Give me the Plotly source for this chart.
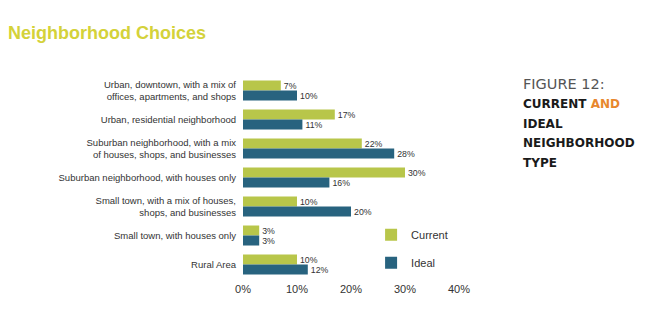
import plotly.graph_objects as go

categories = [
    "Urban, downtown, with a mix of<br>offices, apartments, and shops",
    "Urban, residential neighborhood",
    "Suburban neighborhood, with a mix<br>of houses, shops, and businesses",
    "Suburban neighborhood, with houses only",
    "Small town, with a mix of houses,<br>shops, and businesses",
    "Small town, with houses only",
    "Rural Area",
]
current = [7, 17, 22, 30, 10, 3, 10]
ideal = [10, 11, 28, 16, 20, 3, 12]
x_ticks = [0, 10, 20, 30, 40]
x_tick_labels = ["0%", "10%", "20%", "30%", "40%"]

COND = "Liberation Sans Narrow, Liberation Sans, Arial, sans-serif"
C_CUR = "#b8c64a"
C_IDEAL = "#28637f"

fig = go.Figure()
fig.add_trace(go.Bar(
    y=categories, x=current, orientation="h", name="Current",
    marker=dict(color=C_CUR, line=dict(width=0)),
    text=[f"{v}%" for v in current], textposition="outside", cliponaxis=False,
    textfont=dict(family=COND, size=10.5, color="#333333"),
    legendgroup="a",
))
fig.add_trace(go.Bar(
    y=categories, x=ideal, orientation="h", name="Ideal",
    marker=dict(color=C_IDEAL, line=dict(width=0)),
    text=[f"{v}%" for v in ideal], textposition="outside", cliponaxis=False,
    textfont=dict(family=COND, size=10.5, color="#333333"),
    legendgroup="b",
))

L, R, T, B = 243, 194, 76, 46
fig.update_layout(
    width=653, height=325,
    margin=dict(l=L, r=R, t=T, b=B),
    paper_bgcolor="white", plot_bgcolor="white",
    barmode="group", bargap=0.31, bargroupgap=0,
    title=dict(
        text="<b>Neighborhood Choices</b>",
        font=dict(family=COND, size=18, color="#d4d23a"),
        xref="container", x=8 / 653, xanchor="left",
        yref="container", y=1 - 33 / 325, yanchor="middle",
    ),
    xaxis=dict(
        range=[0, 40], tickvals=x_ticks, ticktext=x_tick_labels,
        showgrid=False, zeroline=False, showline=False, ticks="",
        tickfont=dict(family=COND, size=11, color="#333333"),
        ticklabelstandoff=2,
    ),
    yaxis=dict(
        autorange="reversed", showgrid=False, zeroline=False, showline=False,
        ticks="", tickfont=dict(family=COND, size=9.5, color="#333333"),
        ticklabelstandoff=6,
    ),
    legend=dict(
        x=0.593, xanchor="left", y=0.29, yanchor="top",
        traceorder="grouped", tracegroupgap=9,
        font=dict(family=COND, size=11, color="#333333"),
        bgcolor="rgba(0,0,0,0)", itemwidth=30,
    ),
    showlegend=True,
)

pw = 653 - L - R
ph = 325 - T - B


def px(xp):
    return (xp - L) / pw


def py(yp):
    return (325 - B - yp) / ph


side = [
    ("FIGURE 12:", 84, dict(family="DejaVu Sans", size=14.5, color="#555555")),
    ("<b>CURRENT <span style='color:#e8872e'>AND</span></b>", 104,
     dict(family="DejaVu Sans", size=12, color="#1a1a1a")),
    ("<b>IDEAL</b>", 124, dict(family="DejaVu Sans", size=12, color="#1a1a1a")),
    ("<b>NEIGHBORHOOD</b>", 143, dict(family="DejaVu Sans", size=12, color="#1a1a1a")),
    ("<b>TYPE</b>", 163, dict(family="DejaVu Sans", size=12, color="#1a1a1a")),
]
for txt, ypix, f in side:
    fig.add_annotation(
        text=txt, xref="paper", yref="paper", x=px(521), y=py(ypix),
        xanchor="left", yanchor="middle", showarrow=False, font=f,
    )

fig.write_html("out.html")
